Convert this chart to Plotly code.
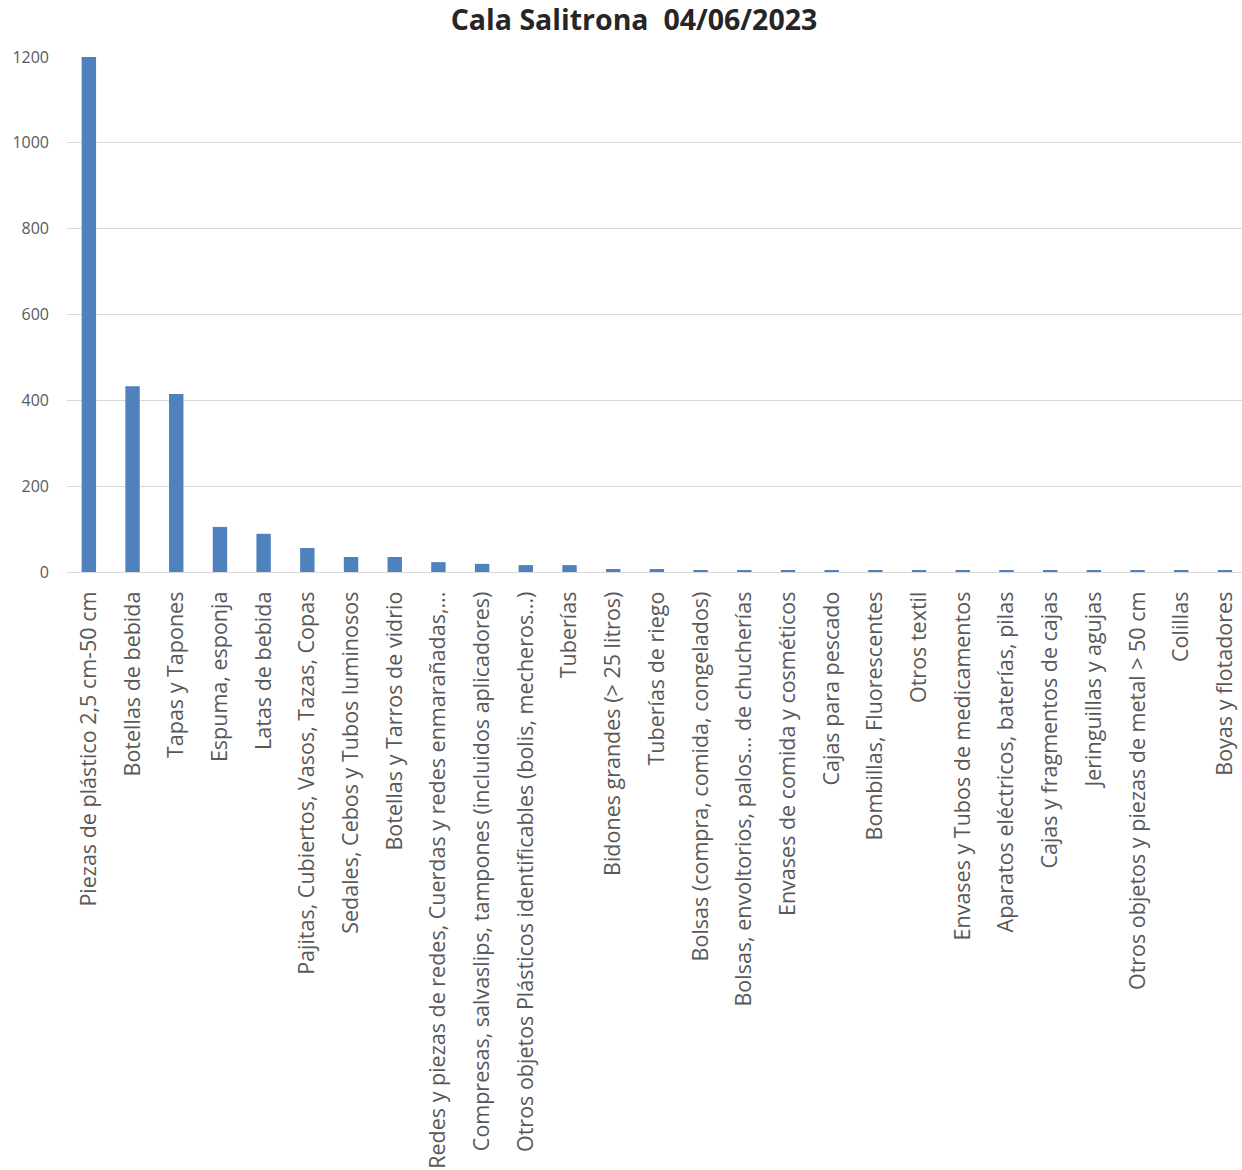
import plotly.graph_objects as go

categories = [
    "Piezas de plástico 2,5 cm-50 cm",
    "Botellas de bebida",
    "Tapas y Tapones",
    "Espuma, esponja",
    "Latas de bebida",
    "Pajitas, Cubiertos, Vasos, Tazas, Copas",
    "Sedales, Cebos y Tubos luminosos",
    "Botellas y Tarros de vidrio",
    "Redes y piezas de redes, Cuerdas y redes enmarañadas,...",
    "Compresas, salvaslips, tampones (incluidos aplicadores)",
    "Otros objetos Plásticos identificables (bolis, mecheros...)",
    "Tuberías",
    "Bidones grandes (> 25 litros)",
    "Tuberías de riego",
    "Bolsas (compra, comida, congelados)",
    "Bolsas, envoltorios, palos... de chucherías",
    "Envases de comida y cosméticos",
    "Cajas para pescado",
    "Bombillas, Fluorescentes",
    "Otros textil",
    "Envases y Tubos de medicamentos",
    "Aparatos eléctricos, baterías, pilas",
    "Cajas y fragmentos de cajas",
    "Jeringuillas y agujas",
    "Otros objetos y piezas de metal > 50 cm",
    "Colillas",
    "Boyas y flotadores",
]
values = [1205, 433, 415, 105, 89, 56, 35, 35, 23, 19, 16, 16, 7, 7,
          4, 3, 3, 3, 3, 3, 3, 3, 3, 3, 3, 3, 3]

y_ticks = [0, 200, 400, 600, 800, 1000, 1200]

fig = go.Figure(go.Bar(x=categories, y=values, marker_color="#4F81BD",
                       marker_line_width=0, cliponaxis=False))

fig.update_layout(
    width=1242, height=1170,
    margin=dict(l=67, r=0, t=57, b=598),
    paper_bgcolor="white", plot_bgcolor="white",
    bargap=0.67,
    showlegend=False,
    font=dict(family="Open Sans", color="#595959"),
    title=dict(text="<b>Cala Salitrona  04/06/2023</b>", x=634 / 1242, xanchor="center",
               xref="container", y=1 - 20 / 1170, yanchor="middle", yref="container",
               font=dict(family="Open Sans", size=28.5, color="#262626")),
)
fig.update_xaxes(
    tickangle=-90, tickfont=dict(family="Open Sans", size=21.5, color="#595959"),
    showgrid=False, showline=True, linecolor="#d9d9d9", linewidth=1,
    ticks="", ticklabelstandoff=10, range=[-0.5, 26.39], automargin=False,
)
fig.update_yaxes(
    range=[0, 1200], tickvals=y_ticks, tickfont=dict(family="Open Sans", size=16, color="#595959"),
    showgrid=True, gridcolor="#d9d9d9", gridwidth=1, zeroline=False,
    ticks="", ticklabelstandoff=17, showline=False, automargin=False,
)

fig.write_html("out.html", config={"displayModeBar": False},
               post_script="document.body.style.margin='0px';document.body.style.padding='0px';")
